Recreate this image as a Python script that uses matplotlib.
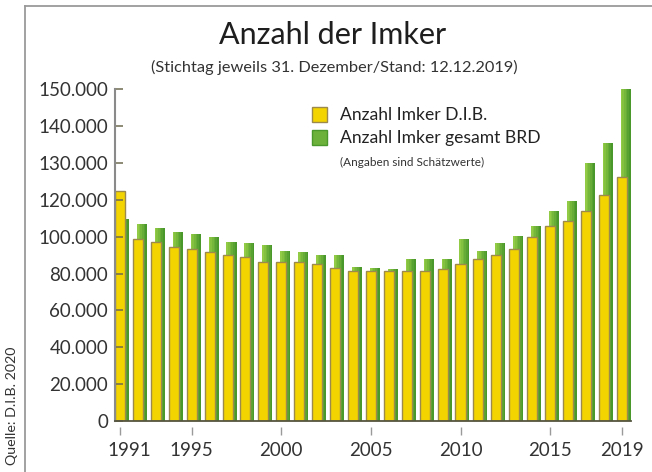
import numpy as np
import matplotlib
matplotlib.use("Agg")
import matplotlib.pyplot as plt
from matplotlib.patches import Rectangle
from matplotlib.lines import Line2D
from matplotlib.transforms import ScaledTranslation

# ---------------------------
# Data
# ---------------------------
years = np.arange(1991, 2020)
imker_dib = [122400, 98900, 97100, 94200, 93300, 91700, 90000, 88800, 86400, 86400,
             86400, 85000, 82800, 81700, 81400, 81400, 81700, 81400, 82500, 85000,
             88200, 90200, 93300, 99800, 106000, 108500, 114100, 121300, 126200]
imker_gesamt = [109600, 106700, 104600, 102400, 101300, 99700, 97100, 96600, 95300, 92500,
                91500, 90000, 90000, 83700, 82800, 82500, 87700, 87700, 87700, 98700,
                92500, 96700, 100500, 106000, 114000, 119400, 130000, 135600, 150000]
ytick_values = [0, 20000, 40000, 60000, 80000, 100000, 120000, 130000, 140000, 150000]
xtick_years = [1991, 1995, 2000, 2005, 2010, 2015, 2019]

TXT_FONT = "Lato"
YELLOW = "#F4D400"
YELLOW_EDGE = "#9C8A4C"
GREEN_LIGHT = np.array([0x92, 0xCB, 0x45]) / 255
GREEN_DARK = np.array([0x4A, 0x98, 0x2C]) / 255

plt.rcParams['font.family'] = [TXT_FONT, 'DejaVu Sans']


# the printed axis is stretched above 120.000 (10.000 per step instead of 20.000)
def fwd(v):
    v = np.asarray(v, dtype=float)
    return np.where(v <= 120000, v / 20000, 6 + (v - 120000) / 10000)


def inv(p):
    p = np.asarray(p, dtype=float)
    return np.where(p <= 6, p * 20000, 120000 + (p - 6) * 10000)


fig = plt.figure(figsize=(6.52, 4.72), dpi=100)
ax = fig.add_axes([0.1764, 0.1081, 0.7910, 0.7023])
ax.set_yscale("function", functions=(fwd, inv))

# ---------------------------
# Bars
# ---------------------------
yw = 0.56      # bar width in years
g_off = 0.22   # green bar sits a bit to the right, behind the yellow one
n_strips = 6
for i in range(n_strips):
    shade = GREEN_LIGHT + (GREEN_DARK - GREEN_LIGHT) * i / (n_strips - 1)
    ax.bar(years + g_off - yw / 2 + i * yw / n_strips, imker_gesamt,
           width=yw / n_strips, align="edge", color=shade, linewidth=0, zorder=1)
ax.bar(years, imker_dib, width=yw, color=YELLOW, edgecolor=YELLOW_EDGE,
       linewidth=1.0, zorder=1.2)

ax.set_xlim(1990.72, 2019.5)
ax.set_ylim(0, 150000)

# ---------------------------
# Axes styling
# ---------------------------
for s in ["top", "right"]:
    ax.spines[s].set_visible(False)
ax.spines["left"].set_color("#8a8a8a")
ax.spines["left"].set_linewidth(1.5)
ax.spines["bottom"].set_color("#55553f")
ax.spines["bottom"].set_linewidth(1.3)

ax.set_yticks(ytick_values)
ax.set_yticklabels([f"{v:,}".replace(",", ".") for v in ytick_values])
ax.yaxis.set_minor_locator(plt.NullLocator())
ax.tick_params(axis="y", direction="in", length=6, width=1.1, color="#6e6a4f",
               pad=5, labelsize=13.5, labelcolor="#333333")
ax.set_xticks([])

# year ticks sit a little below the axis line
secax = ax.secondary_xaxis(-0.018)
secax.spines["bottom"].set_visible(False)
secax.set_xticks(xtick_years)
secax.set_xticklabels([str(y) for y in xtick_years])
secax.tick_params(axis="x", direction="out", length=6, width=1.0, color="#9a9a9a",
                  pad=5, labelsize=13.5, labelcolor="#333333")
first = secax.xaxis.get_major_ticks()[0].label1
first.set_transform(first.get_transform() + ScaledTranslation(0.09, 0, fig.dpi_scale_trans))

# ---------------------------
# Titles, legend, source
# ---------------------------
fig.text(333 / 652, 1 - 35 / 472, "Anzahl der Imker", ha="center", va="center",
         fontsize=22, color="#1e1e1e")
fig.text(334 / 652, 1 - 67 / 472, "(Stichtag jeweils 31. Dezember/Stand: 12.12.2019)",
         ha="center", va="center", fontsize=11.8, color="#333333")

fig.patches.append(Rectangle((312 / 652, 1 - 122 / 472), 15 / 652, 15 / 472,
                             transform=fig.transFigure, facecolor=YELLOW,
                             edgecolor=YELLOW_EDGE, linewidth=1.0))
fig.patches.append(Rectangle((312 / 652, 1 - 145 / 472), 15 / 652, 15 / 472,
                             transform=fig.transFigure, facecolor="#6cb23a",
                             edgecolor="#4A982C", linewidth=1.0))
fig.text(340 / 652, 1 - 115 / 472, "Anzahl Imker D.I.B.", ha="left", va="center",
         fontsize=12.6, color="#222222")
fig.text(340 / 652, 1 - 137.5 / 472, "Anzahl Imker gesamt BRD", ha="left", va="center",
         fontsize=12.6, color="#222222")
fig.text(340 / 652, 1 - 162 / 472, "(Angaben sind Schätzwerte)", ha="left", va="center",
         fontsize=8.5, color="#333333")

fig.text(12 / 652, 1 - 347 / 472, "Quelle: D.I.B. 2020", rotation=90, ha="center",
         va="top", fontsize=10.3, color="#333333")

# frame lines on top and left
fig.add_artist(Line2D([25 / 652, 1], [1 - 6 / 472, 1 - 6 / 472], transform=fig.transFigure,
                      color="#9a9a9a", linewidth=1.3))
fig.add_artist(Line2D([25 / 652, 25 / 652], [0, 1 - 6 / 472], transform=fig.transFigure,
                      color="#9a9a9a", linewidth=1.3))

fig.savefig("out.png", dpi=100)
